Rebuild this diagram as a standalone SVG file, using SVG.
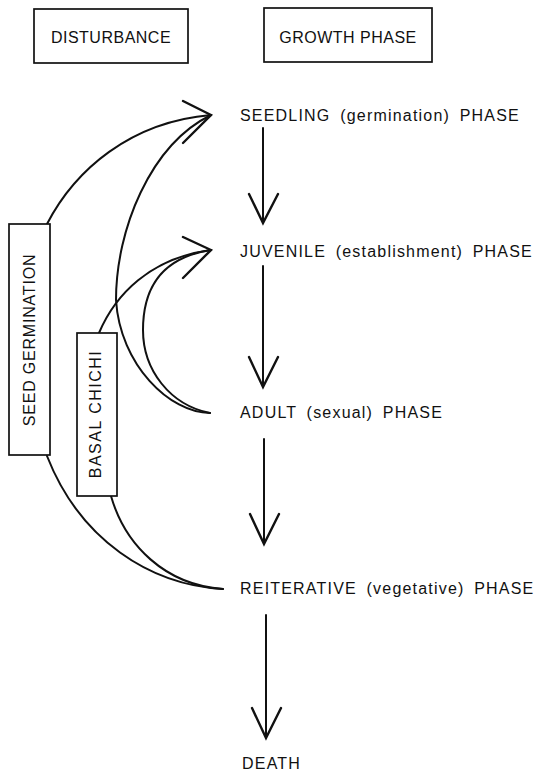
<svg xmlns="http://www.w3.org/2000/svg" width="549" height="775" viewBox="0 0 549 775">
<style>
.t{font-family:"Liberation Sans",Arial,sans-serif;font-size:16px;fill:#111;letter-spacing:1.2px;word-spacing:4px}
.h{font-family:"Liberation Sans",Arial,sans-serif;font-size:16px;fill:#111;letter-spacing:0.5px}
.box{fill:#fff;stroke:#111;stroke-width:1.7}
.c{fill:none;stroke:#111;stroke-width:2;stroke-linecap:round}
.a{fill:none;stroke:#111;stroke-width:2.4;stroke-linecap:round;stroke-linejoin:miter}
</style>
<rect width="549" height="775" fill="#fff"/>
<g id="connectors">
<path class="c" d="M47,224 C75,170 130,122 211,115"/>
<path class="c" d="M210,413 C170,413 120,365 116,300 C116,230 150,145 211,115"/>
<path class="c" d="M210,413 C170,405 143,370 143,330 C143,285 165,257 211,250"/>
<path class="c" d="M99,333 C115,295 150,258 211,250"/>
<path class="c" d="M47,456 C80,540 150,585 223,589"/>
<path class="c" d="M111,496 C125,545 165,585 223,589"/>
<polyline class="a" points="183,101 211,115 183,143"/>
<polyline class="a" points="183,237 211,250 183,278"/>
<line class="c" x1="263" y1="128" x2="263" y2="222"/>
<polyline class="a" points="249,194 263,223 278,194"/>
<line class="c" x1="263" y1="266" x2="263" y2="386"/>
<polyline class="a" points="249,357 263,387 278,357"/>
<line class="c" x1="264" y1="439" x2="264" y2="543"/>
<polyline class="a" points="250,514 264,544 279,514"/>
<line class="c" x1="266" y1="615" x2="266" y2="737"/>
<polyline class="a" points="252,708 266,738 281,708"/>
</g>
<g id="disturbance">
<rect class="box" x="34" y="9" width="154" height="54"/>
<text class="h" x="111" y="43" text-anchor="middle">DISTURBANCE</text>
</g>
<g id="growth-phase">
<rect class="box" x="264" y="8" width="168" height="54"/>
<text class="h" x="348" y="43" text-anchor="middle">GROWTH PHASE</text>
</g>
<g id="seed-germination">
<rect class="box" x="9" y="224" width="41" height="231"/>
<text class="h" transform="translate(29,340) rotate(-90)" x="0" y="6" text-anchor="middle" style="letter-spacing:0.8px">SEED GERMINATION</text>
</g>
<g id="basal-chichi">
<rect class="box" x="77" y="333" width="40" height="163"/>
<text class="h" transform="translate(95,414) rotate(-90)" x="0" y="6" text-anchor="middle" style="letter-spacing:1.5px">BASAL CHICHI</text>
</g>
<g id="seedling"><text class="t" x="240" y="121">SEEDLING (germination) PHASE</text></g>
<g id="juvenile"><text class="t" x="240" y="257">JUVENILE (establishment) PHASE</text></g>
<g id="adult"><text class="t" x="240" y="418">ADULT (sexual) PHASE</text></g>
<g id="reiterative"><text class="t" x="240" y="594">REITERATIVE (vegetative) PHASE</text></g>
<g id="death"><text class="t" x="242" y="769">DEATH</text></g>
</svg>
